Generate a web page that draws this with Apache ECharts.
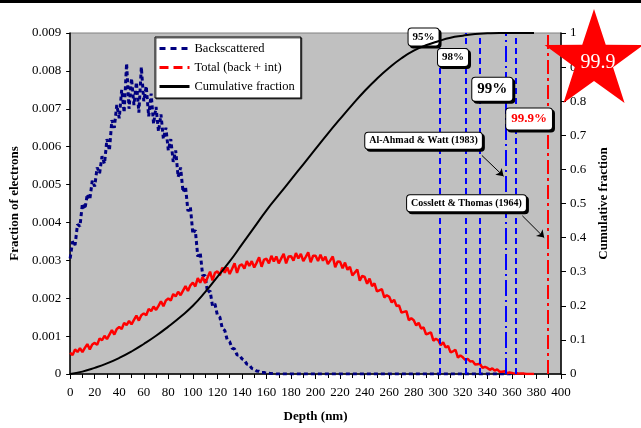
<!DOCTYPE html>
<html>
<head>
    <meta charset="UTF-8">
    <script type="text/javascript" src="https://cdn.jsdelivr.net/npm/echarts@6/dist/echarts.min.js"></script>
    <style>
        html, body { margin: 0; padding: 0; background: #fff; }
    </style>
</head>
<body>
<div id="myDiv" style="width: 641px; height: 428px;"></div>
<script type="text/javascript">
    // depth step of the two noisy profiles (nm)
    var step = 2;

    // backscattered electrons, units of 1e-3, depth 0..170 nm every 2 nm
    var backscattered = [
        3.05, 3.5, 3.4, 3.95, 3.9, 4.5, 4.35, 4.75, 4.6, 5.1,
        4.95, 5.45, 5.3, 5.75, 5.55, 6.2, 5.9, 6.7, 6.5, 7.1,
        6.75, 7.5, 6.9, 8.2, 7.0, 7.8, 7.1, 7.7, 6.9, 8.1,
        7.2, 7.6, 6.8, 7.4, 6.6, 7.05, 6.4, 6.85, 6.2, 6.5,
        5.9, 6.2, 5.6, 5.9, 5.2, 5.45, 4.8, 4.95, 4.3, 4.4,
        3.7, 3.8, 3.1, 3.2, 2.6, 2.6, 2.15, 2.2, 1.8, 1.85,
        1.55, 1.5, 1.2, 1.15, 0.9, 0.85, 0.68, 0.66, 0.5, 0.5,
        0.4, 0.36, 0.26, 0.24, 0.15, 0.13, 0.08, 0.07, 0.04, 0.04,
        0.02, 0.02, 0.01, 0.01, 0, 0
    ];
    var backscatteredEnd = 362; // zero line runs on along the axis to here

    // total (back + int), units of 1e-3, depth 0..378 nm every 2 nm
    var total = [
        0.56, 0.50, 0.65, 0.58, 0.68, 0.58, 0.69, 0.79, 0.65, 0.78,
        0.82, 0.77, 0.94, 0.89, 1.01, 0.92, 1.04, 1.16, 1.04, 1.19,
        1.24, 1.19, 1.35, 1.29, 1.40, 1.31, 1.43, 1.54, 1.41, 1.55,
        1.60, 1.55, 1.72, 1.66, 1.78, 1.69, 1.80, 1.92, 1.79, 1.94,
        1.99, 1.94, 2.11, 2.05, 2.17, 2.08, 2.20, 2.32, 2.19, 2.34,
        2.41, 2.31, 2.53, 2.41, 2.56, 2.40, 2.55, 2.70, 2.47, 2.67,
        2.71, 2.60, 2.81, 2.67, 2.81, 2.64, 2.78, 2.92, 2.67, 2.86,
        2.89, 2.78, 2.98, 2.85, 2.98, 2.81, 2.94, 3.08, 2.83, 3.02,
        3.04, 2.92, 3.12, 2.97, 3.10, 2.92, 3.05, 3.17, 2.92, 3.10,
        3.11, 2.99, 3.19, 3.05, 3.17, 2.98, 3.09, 3.21, 2.95, 3.12,
        3.12, 2.98, 3.15, 2.99, 3.10, 2.90, 3.00, 3.10, 2.82, 2.97,
        2.96, 2.79, 2.94, 2.75, 2.83, 2.60, 2.68, 2.76, 2.46, 2.59,
        2.56, 2.38, 2.52, 2.32, 2.39, 2.18, 2.21, 2.24, 2.02, 2.08,
        2.04, 1.89, 1.96, 1.79, 1.81, 1.62, 1.64, 1.66, 1.42, 1.47,
        1.42, 1.28, 1.35, 1.20, 1.23, 1.05, 1.07, 1.10, 0.88, 0.93,
        0.89, 0.76, 0.84, 0.70, 0.74, 0.57, 0.60, 0.64, 0.43, 0.49,
        0.44, 0.37, 0.40, 0.33, 0.34, 0.25, 0.26, 0.27, 0.16, 0.19,
        0.16, 0.11, 0.15, 0.09, 0.12, 0.06, 0.06, 0.07, 0.02, 0.04,
        0.03, 0.01, 0.02, 0.01, 0.01, 0.01, 0, 0, 0, 0
    ];

    // cumulative fraction (right axis)
    var cumDepth = [0, 10, 20, 30, 40, 50, 60, 70, 80, 90, 100, 110, 120, 130, 140, 150, 160, 170, 180, 190,
        200, 210, 220, 230, 240, 250, 260, 270, 280, 290, 300, 310, 320, 330, 340, 350, 360, 370, 378];
    var cumFrac = [0, 0.007, 0.018, 0.031, 0.047, 0.066, 0.088, 0.112, 0.139, 0.168, 0.2, 0.24, 0.285, 0.33, 0.38,
        0.43, 0.48, 0.525, 0.57, 0.615, 0.66, 0.705, 0.748, 0.79, 0.83, 0.866, 0.898, 0.926, 0.948, 0.964,
        0.976, 0.986, 0.992, 0.997, 0.999, 1, 1, 1, 1];

    // vertical reference depths (nm)
    var refDepths = [301, 322, 334, 355, 363, 389.5];
    var refKinds = ['dash', 'dash', 'dash', 'dashdot', 'dash', 'red'];

    // percentage / reference boxes: [depth, cumulative fraction]
    var notes = [
        {text: '95%', at: [288, 0.988], size: 11, color: '#000'},
        {text: '98%', at: [312, 0.928], size: 11, color: '#000'},
        {text: '99%', at: [344, 0.835], size: 15, color: '#000'},
        {text: '99.9%', at: [374, 0.748], size: 13, color: '#ff0000'},
        {text: 'Al-Ahmad & Watt (1983)', at: [288, 0.684], size: 10, color: '#000'},
        {text: 'Cosslett & Thomas (1964)', at: [323, 0.501], size: 10, color: '#000'}
    ];
    var arrows = [
        [[335.5, 0.641], [353.2, 0.58]],
        [[368.5, 0.464], [386.3, 0.4]]
    ];

    var serif = "'Liberation Serif', 'Times New Roman', serif";

    function toPairs(arr, scale) {
        var out = [];
        for (var i = 0; i < arr.length; i++) out.push([i * step, arr[i] * scale]);
        return out;
    }

    var bsData = toPairs(backscattered, 0.001);
    bsData.push([backscatteredEnd, 0]);
    var totData = toPairs(total, 0.001);
    var cumData = [];
    for (var i = 0; i < cumDepth.length; i++) cumData.push([cumDepth[i], cumFrac[i]]);

    var lineStyles = {
        dash: {color: '#0000ff', width: 2, type: [6, 4]},
        dashdot: {color: '#0000ff', width: 2, type: [16, 4, 2, 4]},
        red: {color: '#ff0000', width: 2, type: [14, 4, 3, 4]}
    };
    var markLines = [];
    for (var i = 0; i < refDepths.length; i++) {
        markLines.push({xAxis: refDepths[i], lineStyle: lineStyles[refKinds[i]]});
    }
    for (var i = 0; i < arrows.length; i++) {
        markLines.push([
            {coord: arrows[i][0], symbol: 'none'},
            {coord: arrows[i][1], symbol: 'arrow', symbolSize: 7, lineStyle: {color: '#000', width: 1, type: 'solid'}}
        ]);
    }

    var markPoints = [];
    for (var i = 0; i < notes.length; i++) {
        var n = notes[i];
        markPoints.push({
            coord: n.at,
            value: n.text,
            label: {
                show: true,
                position: 'inside',
                formatter: n.text,
                fontFamily: serif,
                fontWeight: 'bold',
                fontSize: n.size,
                color: n.color,
                backgroundColor: '#fff',
                borderColor: '#000',
                borderWidth: 1,
                borderRadius: 3,
                padding: n.size > 12 ? [4, 5] : [3, 4],
                shadowColor: '#000',
                shadowOffsetX: 2,
                shadowOffsetY: 2,
                shadowBlur: 0
            }
        });
    }

    // star points (decoration in the corner)
    var starPts = [];
    var cx = 594, cy = 61, R = 52, r = 20;
    for (var k = 0; k < 10; k++) {
        var a = -Math.PI / 2 + k * Math.PI / 5;
        var rr = k % 2 === 0 ? R : r;
        starPts.push([cx + rr * Math.cos(a), cy + rr * Math.sin(a)]);
    }

    var chart = echarts.init(document.getElementById('myDiv'));
    var option = {
        backgroundColor: '#fff',
        animation: false,
        textStyle: {fontFamily: serif},
        grid: {
            left: 65, right: 80, top: 33, bottom: 50,
            show: true,
            backgroundColor: '#c0c0c0',
            borderColor: '#808080',
            borderWidth: 1
        },
        legend: {
            orient: 'vertical',
            left: 155,
            top: 37,
            padding: [5, 6, 5, 3],
            itemGap: 6,
            itemWidth: 30,
            itemHeight: 12,
            backgroundColor: '#fff',
            borderColor: '#000',
            borderWidth: 1,
            shadowColor: 'rgba(0,0,0,0.6)',
            shadowOffsetX: 1,
            shadowOffsetY: 1,
            itemStyle: {opacity: 0},
            textStyle: {fontFamily: serif, fontSize: 12.5, color: '#000'},
            data: [
                {name: 'Backscattered', lineStyle: {type: [6, 5], width: 3}},
                {name: 'Total (back + int)', lineStyle: {type: [9, 5], width: 3}},
                {name: 'Cumulative fraction', lineStyle: {width: 3}}
            ]
        },
        xAxis: {
            type: 'value',
            min: 0, max: 400, interval: 20,
            name: 'Depth (nm)',
            nameLocation: 'middle',
            nameGap: 36,
            nameTextStyle: {fontFamily: serif, fontWeight: 'bold', fontSize: 13, color: '#000'},
            axisLine: {lineStyle: {color: '#000', width: 1.5}},
            axisTick: {length: 5, lineStyle: {color: '#000'}},
            minorTick: {show: true, splitNumber: 2, length: 4, lineStyle: {color: '#000'}},
            axisLabel: {fontFamily: serif, fontSize: 13, color: '#000', margin: 12},
            splitLine: {show: false}
        },
        yAxis: [
            {
                type: 'value',
                min: 0, max: 0.009, interval: 0.001,
                name: 'Fraction of electrons',
                nameLocation: 'middle',
                nameGap: 42,
                nameTextStyle: {fontFamily: serif, fontWeight: 'bold', fontSize: 13, color: '#000'},
                axisLine: {show: true, lineStyle: {color: '#000', width: 1.5}},
                axisTick: {show: true, length: 4, lineStyle: {color: '#000'}},
                axisLabel: {
                    fontFamily: serif, fontSize: 13, color: '#000', margin: 9,
                    formatter: function (v) { return v === 0 ? '0' : v.toFixed(3); }
                },
                splitLine: {show: false}
            },
            {
                type: 'value',
                min: 0, max: 1, interval: 0.1,
                name: 'Cumulative fraction',
                nameLocation: 'middle',
                nameGap: 30,
                nameRotate: 90,
                nameTextStyle: {fontFamily: serif, fontWeight: 'bold', fontSize: 13, color: '#000'},
                axisLine: {show: true, lineStyle: {color: '#000', width: 1.5}},
                axisTick: {show: true, length: 5, lineStyle: {color: '#000'}},
                axisLabel: {
                    fontFamily: serif, fontSize: 13, color: '#000', margin: 9,
                    formatter: function (v) { return String(+v.toFixed(1)); }
                },
                splitLine: {show: false}
            }
        ],
        series: [
            {
                name: 'Backscattered',
                type: 'line',
                data: bsData,
                showSymbol: false,
                symbol: 'none',
                lineStyle: {color: '#000080', width: 3, type: [4, 3]},
                itemStyle: {color: '#000080'},
                z: 3
            },
            {
                name: 'Total (back + int)',
                type: 'line',
                data: totData,
                showSymbol: false,
                symbol: 'none',
                lineStyle: {color: '#ff0000', width: 2.5},
                itemStyle: {color: '#ff0000'},
                z: 4
            },
            {
                name: 'Cumulative fraction',
                type: 'line',
                yAxisIndex: 1,
                data: cumData,
                smooth: true,
                showSymbol: false,
                symbol: 'none',
                lineStyle: {color: '#000', width: 2},
                itemStyle: {color: '#000'},
                z: 5,
                markLine: {
                    silent: true,
                    symbol: ['none', 'none'],
                    label: {show: false},
                    data: markLines
                },
                markPoint: {
                    silent: true,
                    symbol: 'rect',
                    symbolSize: 1,
                    itemStyle: {color: 'rgba(0,0,0,0)'},
                    data: markPoints
                }
            }
        ],
        graphic: [
            {type: 'rect', left: 0, top: 0, shape: {width: 641, height: 3}, style: {fill: '#000'}, z: 100},
            {type: 'polygon', shape: {points: starPts}, style: {fill: '#ff0000'}, z: 100},
            {type: 'text', x: cx + 4, y: cy + 2, style: {text: '99.9', fill: '#fff', font: '20px ' + serif, textAlign: 'center', textVerticalAlign: 'middle'}, z: 101}
        ]
    };
    chart.setOption(option);
</script>
</body>
</html>
